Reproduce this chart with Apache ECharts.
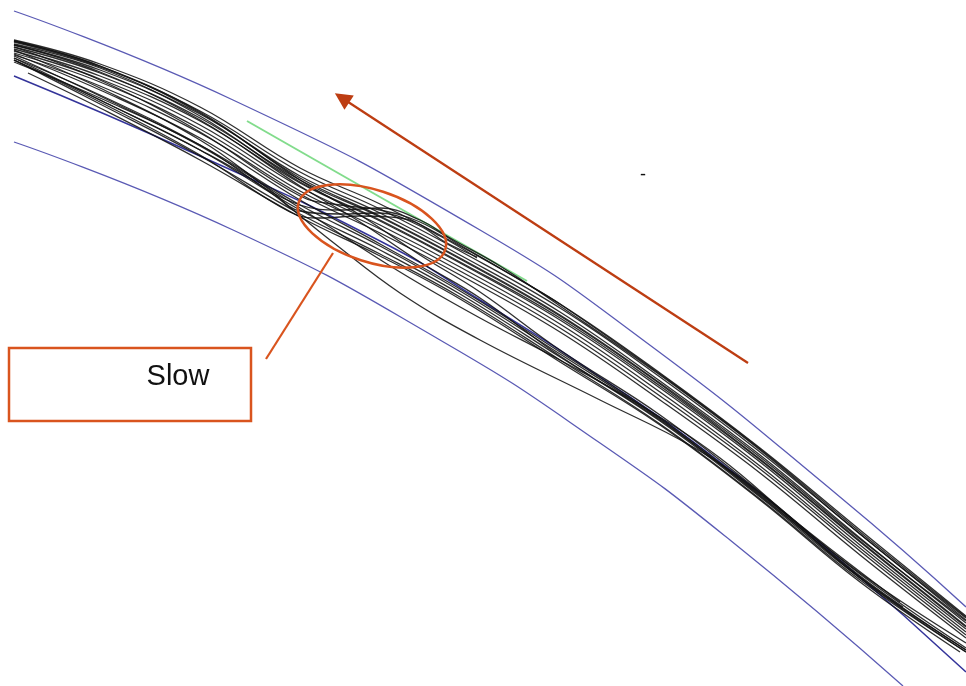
<!DOCTYPE html>
<html>
<head>
<meta charset="utf-8">
<title>Trajectories</title>
<script src="https://cdn.jsdelivr.net/npm/echarts@6.0.0/dist/echarts.min.js"></script>
<style>
  html, body { margin: 0; padding: 0; background: #fff; }
  #chart { width: 966px; height: 686px; }
</style>
</head>
<body>
<div id="chart"></div>
<script>
// picture coordinates, y grows downwards
const laneTop = [[14, 11], [233, 100], [480, 230], [643, 340], [840, 497], [966, 607]];
const laneMiddle = [[14, 76], [200, 156], [380, 241], [480, 300], [600, 377], [720, 462], [840, 560], [966, 672]];
const laneBottom = [[14, 142], [233, 230], [440, 340], [600, 443], [730, 540], [903, 686]];
const greenMarker = [[247, 121], [527, 281]];

// recorded vehicle paths
const trajectories = [
  [[14, 40], [100, 64], [200, 107], [300, 168], [380, 204], [460, 246], [560, 304], [660, 373], [760, 448], [860, 530], [966, 616]],
  [[14, 42], [100, 67], [200, 111], [300, 172], [380, 209], [460, 251], [560, 308], [660, 377], [760, 452], [860, 534], [966, 620]],
  [[14, 45], [100, 70], [200, 114], [300, 176], [380, 213], [460, 255], [560, 312], [660, 381], [760, 455], [860, 538], [966, 623]],
  [[14, 47], [100, 73], [200, 118], [300, 180], [380, 217], [460, 259], [560, 316], [660, 384], [760, 459], [860, 541], [966, 626]],
  [[14, 49], [100, 76], [200, 121], [300, 183], [380, 221], [460, 263], [560, 320], [660, 388], [760, 462], [860, 545], [966, 629]],
  [[14, 51], [100, 79], [200, 125], [300, 187], [380, 225], [460, 267], [560, 324], [660, 392], [760, 466], [860, 548], [966, 632]],
  [[14, 53], [100, 82], [200, 129], [300, 191], [380, 229], [460, 271], [560, 328], [660, 396], [760, 469], [860, 551], [966, 635]],
  [[14, 44], [100, 68], [200, 116], [300, 182], [380, 220], [460, 262], [560, 318], [660, 386], [760, 460], [860, 542], [966, 627]],
  [[14, 41], [100, 66], [200, 113], [300, 178], [380, 216], [460, 258], [560, 315], [660, 383], [760, 457], [860, 539], [966, 621]],
  [[14, 55], [100, 86], [200, 133], [300, 194], [380, 233], [460, 275], [560, 332], [660, 400], [760, 473], [860, 555], [966, 638]],
  [[14, 58], [100, 100], [200, 150], [300, 210], [380, 250], [460, 294], [560, 357], [660, 421], [760, 497], [860, 578], [966, 650]],
  [[14, 60], [100, 104], [200, 156], [300, 214], [380, 254], [460, 297], [560, 360], [660, 424], [760, 499], [860, 580], [966, 652]],
  [[28, 73], [100, 108], [200, 160], [300, 217], [380, 256], [460, 299], [560, 362], [660, 425], [760, 500], [860, 582], [960, 652]],
  [[14, 62], [100, 98], [200, 145], [300, 205], [380, 246], [460, 291], [560, 354], [660, 419], [760, 496], [860, 576], [903, 607]],
  [[14, 54], [100, 90], [200, 138], [300, 200], [380, 244], [460, 289], [560, 352], [660, 418], [760, 494], [860, 573], [966, 643]],
  [[14, 50], [100, 88], [200, 140], [270, 190], [300, 211], [340, 214], [380, 213], [420, 226], [445, 242], [477, 257]],
  [[14, 58], [100, 95], [200, 145], [300, 205], [340, 210], [380, 208], [420, 220], [450, 238], [500, 266], [560, 306], [660, 375], [760, 450], [860, 534], [966, 618]],
  [[14, 47], [100, 80], [200, 132], [300, 196], [340, 205], [380, 210], [420, 222], [460, 245], [520, 280], [560, 304], [660, 374], [760, 449], [860, 532], [966, 617]],
  [[14, 60], [100, 102], [200, 155], [290, 212], [320, 218], [360, 216], [400, 218], [440, 236], [477, 258]],
  [[14, 41], [100, 66], [200, 112], [300, 180], [360, 215], [420, 255], [480, 292], [560, 350], [660, 415], [760, 492], [860, 574], [966, 648]],
  [[14, 45], [100, 72], [200, 120], [300, 186], [360, 222], [420, 262], [480, 298], [560, 356], [660, 420], [760, 495], [860, 577], [966, 650]],
  [[14, 60], [100, 100], [200, 150], [260, 185], [330, 240], [400, 293], [480, 340], [600, 400], [693, 447], [760, 493], [860, 578], [966, 652]],
  [[14, 56], [100, 96], [200, 146], [300, 208], [400, 272], [480, 318], [560, 360], [640, 405], [720, 458], [800, 525], [900, 602]]
];

// annotations
const slowZone = [372, 226, 77, 36, 18];        // cx, cy, rx, ry, tilt (deg)
const arrowPath = [[748, 363], [342, 98]];
const calloutLine = [[266, 359], [333, 253]];
const calloutBox = [9, 348, 251, 421];
const notes = [
  { text: 'Slow', at: [178, 377], size: 29 },
  { text: '-', at: [643, 175], size: 18 }
];

const chart = echarts.init(document.getElementById('chart'));

const plainLine = (data, color, width, z) => ({
  type: 'line',
  data: data,
  showSymbol: false,
  symbol: 'none',
  silent: true,
  z: z,
  lineStyle: { color: color, width: width }
});

const series = [
  Object.assign(plainLine(laneTop, '#5a5ab4', 1.3, 2), { smooth: 0.5 }),
  Object.assign(plainLine(laneMiddle, '#34349a', 1.5, 2), { smooth: 0.5 }),
  Object.assign(plainLine(laneBottom, '#5a5ab4', 1.3, 2), { smooth: 0.5 }),
  plainLine(greenMarker, '#82dc8c', 2, 2)
];

trajectories.forEach(function (path) {
  const s = plainLine(path, '#111', 1.3, 3);
  s.smooth = 0.4;
  s.lineStyle.opacity = 0.88;
  series.push(s);
});

series.push({
  type: 'lines',
  coordinateSystem: 'cartesian2d',
  silent: true,
  z: 6,
  symbol: ['none', 'triangle'],
  symbolSize: 17,
  lineStyle: { color: '#bd3d12', width: 2.3, opacity: 1 },
  data: [{ coords: arrowPath }]
});

series.push(plainLine(calloutLine, '#d9541e', 2.2, 6));

series.push({
  type: 'custom',
  silent: true,
  z: 7,
  data: [slowZone],
  encode: { x: 0, y: 1 },
  renderItem: function (params, api) {
    const c = api.coord([api.value(0), api.value(1)]);
    const r = api.size([api.value(2), api.value(3)]);
    return {
      type: 'ellipse',
      x: c[0],
      y: c[1],
      rotation: -api.value(4) * Math.PI / 180,
      shape: { cx: 0, cy: 0, rx: r[0], ry: r[1] },
      style: { fill: 'none', stroke: '#d9541e', lineWidth: 2.5 }
    };
  }
});

series.push({
  type: 'custom',
  silent: true,
  z: 7,
  data: [calloutBox],
  encode: { x: [0, 2], y: [1, 3] },
  renderItem: function (params, api) {
    const p1 = api.coord([api.value(0), api.value(1)]);
    const p2 = api.coord([api.value(2), api.value(3)]);
    return {
      type: 'rect',
      shape: { x: p1[0], y: p1[1], width: p2[0] - p1[0], height: p2[1] - p1[1] },
      style: { fill: '#fff', stroke: '#d9541e', lineWidth: 2.5 }
    };
  }
});

series.push({
  type: 'custom',
  silent: true,
  z: 8,
  data: notes.map(n => n.at),
  encode: { x: 0, y: 1 },
  renderItem: function (params, api) {
    const n = notes[params.dataIndex];
    const c = api.coord([api.value(0), api.value(1)]);
    return {
      type: 'text',
      style: {
        x: c[0],
        y: c[1],
        text: n.text,
        fill: '#111',
        font: n.size + 'px "Liberation Sans", Arial, sans-serif',
        align: 'center',
        verticalAlign: 'middle'
      }
    };
  }
});

chart.setOption({
  animation: false,
  backgroundColor: '#fff',
  grid: { left: 0, right: 0, top: 0, bottom: 0 },
  xAxis: { type: 'value', min: 0, max: 966, show: false },
  yAxis: { type: 'value', min: 0, max: 686, inverse: true, show: false },
  series: series
});

window.addEventListener('resize', chart.resize);
</script>
</body>
</html>
